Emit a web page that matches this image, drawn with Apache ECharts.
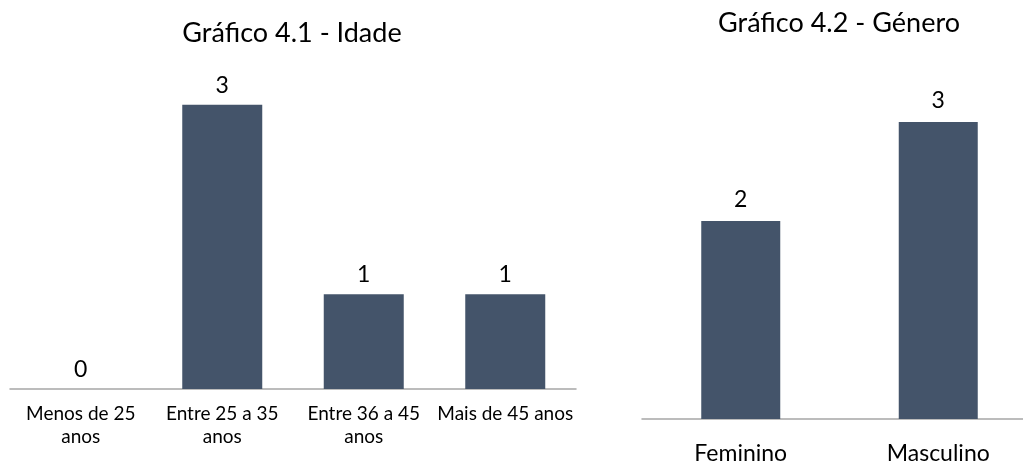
<!DOCTYPE html>
<html>
<head>
<meta charset="utf-8">
<script src="https://cdn.jsdelivr.net/npm/echarts@6/dist/echarts.min.js"></script>
<style>
    html, body { margin: 0; padding: 0; background: #fff; }
    #chart { width: 1023px; height: 463px; }
</style>
</head>
<body>
<div id="chart"></div>
<script>
// dados dos dois gráficos
let idadeLabels = ['Menos de 25\nanos', 'Entre 25 a 35\nanos', 'Entre 36 a 45\nanos', 'Mais de 45 anos']
let idadeValues = [0, 3, 1, 1]
let generoLabels = ['Feminino', 'Masculino']
let generoValues = [2, 3]

let font = 'Lato, "Open Sans", sans-serif'
let barColor = '#44546a'

let mycharts = echarts.init(document.getElementById('chart'));
mycharts.setOption({
    animation: false,
    title: [{
        text: 'Gráfico 4.1 - Idade',
        left: 287,
        top: 13,
        textAlign: 'center',
        textStyle: { fontFamily: font, fontSize: 27, fontWeight: 'normal', color: '#000', lineHeight: 30 }
    }, {
        text: 'Gráfico 4.2 - Género',
        left: 834,
        top: 3,
        textAlign: 'center',
        textStyle: { fontFamily: font, fontSize: 27, fontWeight: 'normal', color: '#000', lineHeight: 30 }
    }],
    grid: [
        { left: 10, top: 10, width: 566, height: 379, outerBoundsMode: 'none' },   // idade
        { left: 642, top: 23, width: 395, height: 396, outerBoundsMode: 'none' }   // género
    ],
    xAxis: [{
        type: 'category',
        gridIndex: 0,
        data: idadeLabels,
        axisLine: { lineStyle: { color: '#a6a6a6', width: 1.5 } },
        axisTick: { show: false },
        axisLabel: {
            interval: 0,
            margin: 13,
            fontFamily: font,
            fontSize: 19,
            lineHeight: 23,
            color: '#000'
        }
    }, {
        type: 'category',
        gridIndex: 1,
        data: generoLabels,
        axisLine: { lineStyle: { color: '#a6a6a6', width: 1.5 } },
        axisTick: { show: false },
        axisLabel: {
            interval: 0,
            margin: 23,
            fontFamily: font,
            fontSize: 23,
            lineHeight: 24,
            color: '#000'
        }
    }],
    yAxis: [{
        type: 'value',
        gridIndex: 0,
        min: 0,
        max: 4,
        show: false
    }, {
        type: 'value',
        gridIndex: 1,
        min: 0,
        max: 4,
        show: false
    }],
    series: [{
        type: 'bar',
        xAxisIndex: 0,
        yAxisIndex: 0,
        barWidth: 80,
        itemStyle: { color: barColor },
        label: {
            show: true,
            position: 'top',
            distance: 8,
            fontFamily: font,
            fontSize: 23,
            color: '#000'
        },
        data: idadeValues
    }, {
        type: 'bar',
        xAxisIndex: 1,
        yAxisIndex: 1,
        barWidth: 79,
        itemStyle: { color: barColor },
        label: {
            show: true,
            position: 'top',
            distance: 10,
            fontFamily: font,
            fontSize: 23,
            color: '#000'
        },
        data: generoValues
    }]
})
</script>
</body>
</html>
